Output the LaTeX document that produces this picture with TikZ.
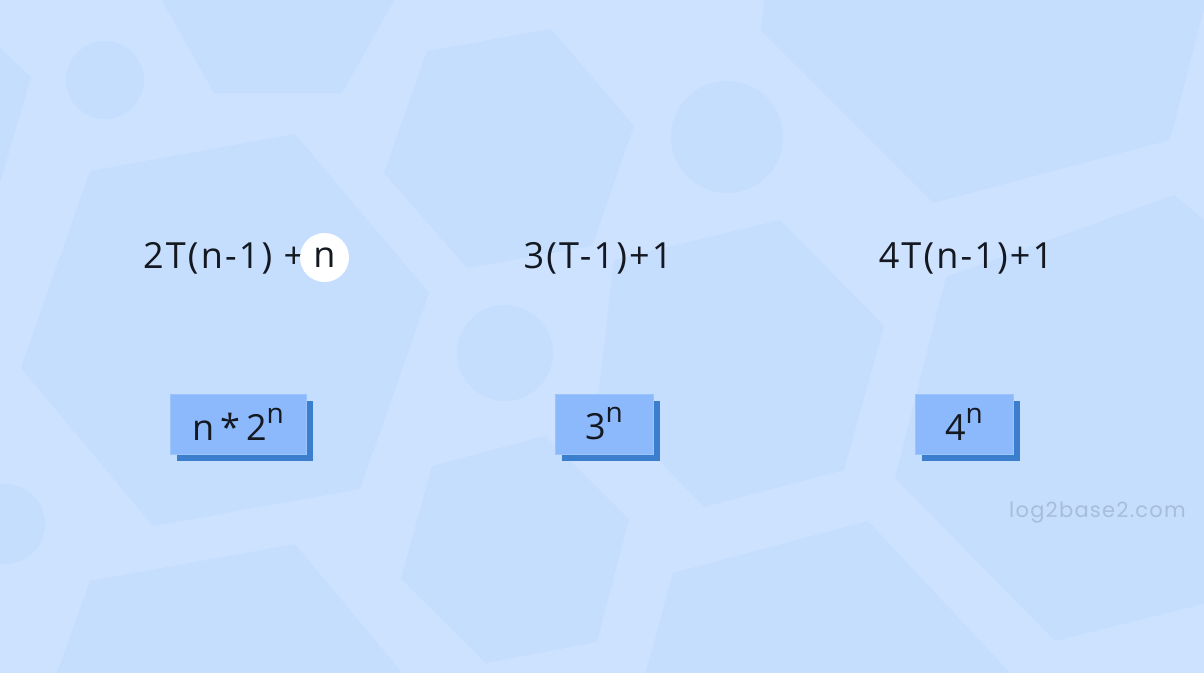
\documentclass[tikz,border=0pt]{standalone}
\usepackage{fontspec}
\usetikzlibrary{shadows}
\setmainfont{Open Sans}
\newfontfamily\eqfont[LetterSpace=6]{Open Sans}
\newfontfamily\wmfont[LetterSpace=6]{Poppins}
\definecolor{bgc}{RGB}{205,226,254}
\definecolor{hexc}{RGB}{197,222,254}
\definecolor{boxc}{RGB}{140,184,252}
\definecolor{boxline}{RGB}{155,196,253}
\definecolor{shadc}{RGB}{58,126,205}
\definecolor{txtc}{RGB}{20,24,32}
\definecolor{wmc}{RGB}{168,189,216}
\tikzset{
  eq/.style={font=\eqfont\fontsize{36}{40}\selectfont, text=txtc, inner sep=0pt},
  hlcircle/.style={circle, fill=white, minimum size=49pt, inner sep=0pt, font=\eqfont\fontsize{36}{40}\selectfont, text=txtc},
  ansbox/.style={fill=boxc, draw=boxline, line width=1pt, minimum height=60pt, inner sep=0pt,
     font=\eqfont\fontsize{36}{40}\selectfont, text=txtc,
     drop shadow={shadow xshift=7pt, shadow yshift=-7pt, fill=shadc, opacity=1}},
  wm/.style={font=\wmfont\fontsize{21}{24}\selectfont, text=wmc, inner sep=0pt}
}
\newcommand{\supn}{\raisebox{17pt}{\fontsize{28}{30}\selectfont n}}
\begin{document}
\begin{tikzpicture}[x=1pt,y=-1pt]
\useasboundingbox (0,0) rectangle (1204,672);
\fill[bgc] (-3,-3) rectangle (1207,675);
% background shapes
\begin{scope}[hexc]
\fill (160,-3) -- (214,93) -- (342,93) -- (396,-3) -- cycle;
\fill (-3,45) -- (31,77) -- (-3,193) -- cycle;
\fill (105,80) circle[radius=39];
\fill (90,171) -- (295,134) -- (429,293) -- (360,489) -- (153,526) -- (21,368) -- cycle;
\fill (427,51) -- (551,29) -- (634,126) -- (592,246) -- (467,268) -- (384,173) -- cycle;
\fill (727,137) circle[radius=56];
\fill (765,-3) -- (761,30) -- (933,203) -- (1170,140) -- (1207,-3) -- cycle;
\fill (505,353) circle[radius=48];
\fill (614,260) -- (780,220) -- (884,326) -- (844,470) -- (704,507) -- (598,398) -- cycle;
\fill (946,277) -- (1174,195) -- (1207,222) -- (1207,603) -- (1055,641) -- (895,478) -- cycle;
\fill (432,466) -- (545,436) -- (629,519) -- (597,642) -- (486,663) -- (401,579) -- cycle;
\fill (5,524) circle[radius=40];
\fill (90,581) -- (295,544) -- (404,675) -- (56,675) -- cycle;
\fill (673,573) -- (868,521) -- (1012,675) -- (645,675) -- cycle;
\end{scope}
% top equations
\node[eq, anchor=base west] (e1) at (143,268) {2T(n-1) +};
\node[hlcircle] (c1) at (324.5,257.5) {n};
\node[eq, anchor=base] (e2) at (598,268) {3(T-1)+1};
\node[eq, anchor=base] (e3) at (966,268) {4T(n-1)+1};
% answer boxes
\node[ansbox, minimum width=136pt] (b1) at (238,424) {n\,*\,2\supn};
\node[ansbox, minimum width=98pt] (b2) at (604,424) {3\supn};
\node[ansbox, minimum width=98pt] (b3) at (964,424) {4\supn};
% watermark
\node[wm, anchor=base east] (w) at (1186,517) {log2base2.com};
\end{tikzpicture}
\end{document}
